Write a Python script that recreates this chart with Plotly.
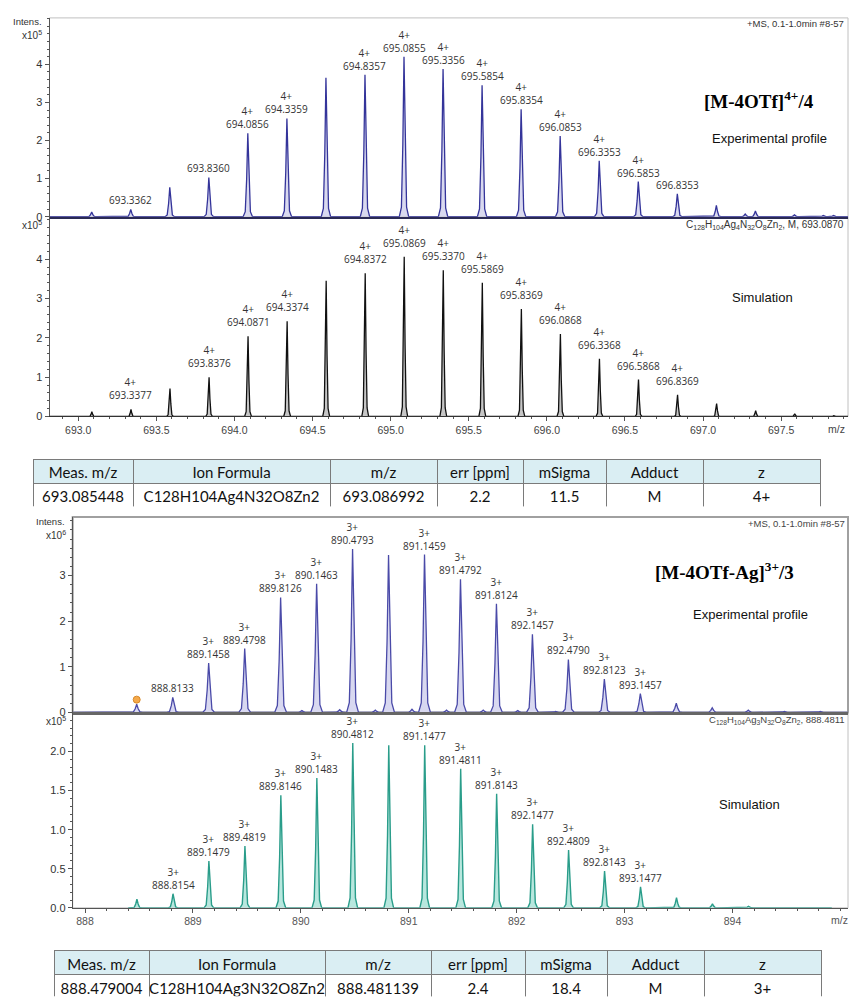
import plotly.graph_objects as go

W, H = 850, 1003

# ---------------- data ----------------
# Panel 1: experimental [M-4OTf]4+ (x10^5)
exp4_mz = [693.0862, 693.3362, 693.5860, 693.8360, 694.0856, 694.3359, 694.5858, 694.8357,
           695.0855, 695.3356, 695.5854, 695.8354, 696.0853, 696.3353, 696.5853, 696.8353,
           697.0853, 697.2700, 697.3353, 697.5853, 697.7700, 697.8353]
exp4_int = [0.12, 0.19, 0.77, 1.03, 2.19, 2.58, 3.65, 3.73,
            4.20, 3.88, 3.45, 2.82, 2.12, 1.47, 0.92, 0.60,
            0.30, 0.07, 0.15, 0.05, 0.03, 0.03]
exp4_label = ["", "693.3362", "", "693.8360", "694.0856", "694.3359", "", "694.8357",
              "695.0855", "695.3356", "695.5854", "695.8354", "696.0853", "696.3353", "696.5853", "696.8353",
              "", "", "", "", "", ""]
exp4_charge = ["", "", "", "", "4+", "4+", "", "4+",
               "4+", "4+", "4+", "4+", "4+", "4+", "4+", "",
               "", "", "", "", "", ""]

# Panel 2: simulated [M-4OTf]4+ (x10^5)
sim4_mz = [693.0871, 693.3377, 693.5874, 693.8376, 694.0871, 694.3374, 694.5873, 694.8372,
           695.0869, 695.3370, 695.5869, 695.8369, 696.0868, 696.3368, 696.5868, 696.8369,
           697.0869, 697.3369, 697.5869, 697.8369]
sim4_int = [0.12, 0.18, 0.71, 1.00, 2.04, 2.42, 3.45, 3.64,
            4.06, 3.72, 3.40, 2.73, 2.10, 1.47, 0.94, 0.55,
            0.33, 0.15, 0.07, 0.02]
sim4_label = ["", "693.3377", "", "693.8376", "694.0871", "694.3374", "", "694.8372",
              "695.0869", "695.3370", "695.5869", "695.8369", "696.0868", "696.3368", "696.5868", "696.8369",
              "", "", "", ""]
sim4_charge = ["", "4+", "", "4+", "4+", "4+", "", "4+",
               "4+", "4+", "4+", "4+", "4+", "4+", "4+", "4+",
               "", "", "", ""]

# Panel 3: experimental [M-4OTf-Ag]3+ (x10^6)
exp3_mz = [888.4790, 888.8133, 889.1458, 889.4798, 889.8126, 890.1463, 890.4793, 890.8126,
           891.1459, 891.4792, 891.8124, 892.1457, 892.4790, 892.8123, 893.1457, 893.4790,
           893.8120, 894.1460, 894.4790, 894.8120]
exp3_int = [0.18, 0.33, 1.08, 1.40, 2.52, 2.82, 3.58, 3.45,
            3.46, 2.92, 2.38, 1.71, 1.16, 0.73, 0.41, 0.20,
            0.10, 0.05, 0.02, 0.02]
exp3_label = ["", "888.8133", "889.1458", "889.4798", "889.8126", "890.1463", "890.4793", "",
              "891.1459", "891.4792", "891.8124", "892.1457", "892.4790", "892.8123", "893.1457", "",
              "", "", "", ""]
exp3_charge = ["", "", "3+", "3+", "3+", "3+", "3+", "",
               "3+", "3+", "3+", "3+", "3+", "3+", "3+", "",
               "", "", "", ""]
exp3_minor_mz = [890.01, 890.36, 890.69, 891.03, 891.35, 891.69, 892.01, 892.36]
exp3_minor_int = [0.04, 0.06, 0.05, 0.07, 0.05, 0.05, 0.04, 0.02]
mono3_mz = [888.4790]
mono3_int = [0.28]

# Panel 4: simulated [M-4OTf-Ag]3+
sim3_mz = [888.4811, 888.8154, 889.1479, 889.4819, 889.8146, 890.1483, 890.4812, 890.8146,
           891.1477, 891.4811, 891.8143, 892.1477, 892.4809, 892.8143, 893.1477, 893.4810,
           893.8140, 894.1480]
sim3_int = [0.11, 0.18, 0.60, 0.79, 1.44, 1.66, 2.11, 2.08,
            2.08, 1.78, 1.46, 1.07, 0.74, 0.47, 0.27, 0.13,
            0.05, 0.02]
sim3_label = ["", "888.8154", "889.1479", "889.4819", "889.8146", "890.1483", "890.4812", "",
              "891.1477", "891.4811", "891.8143", "892.1477", "892.4809", "892.8143", "893.1477", "",
              "", ""]
sim3_charge = ["" if l == "" else "3+" for l in sim3_label]

x4_ticks = [693.0, 693.5, 694.0, 694.5, 695.0, 695.5, 696.0, 696.5, 697.0, 697.5]
x3_ticks = [888, 889, 890, 891, 892, 893, 894]
y4_ticks = [0, 1, 2, 3, 4]
y3_ticks = [0, 1, 2, 3]
ysim3_ticks = [0.0, 0.5, 1.0, 1.5, 2.0]

table_header = ["Meas. m/z", "Ion Formula", "m/z", "err [ppm]", "mSigma", "Adduct", "z"]
table1_row = ["693.085448", "C128H104Ag4N32O8Zn2", "693.086992", "2.2", "11.5", "M", "4+"]
table2_row = ["888.479004", "C128H104Ag3N32O8Zn2", "888.481139", "2.4", "18.4", "M", "3+"]

# ---------------- style helpers ----------------
PROFILE_DX = [-1.0, -0.55, -0.25, 0.0, 0.25, 0.55, 1.0]
PROFILE_DY = [0.0, 0.06, 0.45, 1.0, 0.45, 0.06, 0.0]


def px(x):
    return x / W


def py(y):
    return 1 - y / H


def profile(mz, inten, hw, x0, x1):
    pairs = sorted(zip(mz, inten))
    xs, ys = [x0], [0.0]
    for m, h in pairs:
        for dx, dy in zip(PROFILE_DX, PROFILE_DY):
            xs.append(m + dx * hw)
            ys.append(h * dy)
    xs.append(x1)
    ys.append(0.0)
    return xs, ys


X4_RANGE = [692.816, 697.928]
X3_RANGE = [887.886, 895.07]

fig = go.Figure()

# panel 1
xs, ys = profile(exp4_mz, exp4_int, 0.03, X4_RANGE[0], X4_RANGE[1])
fig.add_trace(go.Scatter(x=xs, y=ys, mode="lines", fill="tozeroy", fillcolor="#d9d9ef",
                         line=dict(color="#34349a", width=1.3), xaxis="x", yaxis="y",
                         hoverinfo="skip", showlegend=False))
# panel 2
xs, ys = profile(sim4_mz, sim4_int, 0.022, X4_RANGE[0], X4_RANGE[1])
fig.add_trace(go.Scatter(x=xs, y=ys, mode="lines", fill="tozeroy", fillcolor="#c6c6c6",
                         line=dict(color="#111111", width=1.3), xaxis="x2", yaxis="y2",
                         hoverinfo="skip", showlegend=False))
# panel 3
xs, ys = profile(exp3_mz + exp3_minor_mz, exp3_int + exp3_minor_int, 0.055, X3_RANGE[0], X3_RANGE[1])
fig.add_trace(go.Scatter(x=xs, y=ys, mode="lines", fill="tozeroy", fillcolor="#d8d8f0",
                         line=dict(color="#4a4aa8", width=1.3), xaxis="x3", yaxis="y3",
                         hoverinfo="skip", showlegend=False))
fig.add_trace(go.Scatter(x=mono3_mz, y=mono3_int, mode="markers",
                         marker=dict(color="#f5a94a", size=7, line=dict(color="#d88a2a", width=1)),
                         xaxis="x3", yaxis="y3", hoverinfo="skip", showlegend=False))
# panel 4
xs, ys = profile(sim3_mz, sim3_int, 0.045, 888.40, 894.92)
fig.add_trace(go.Scatter(x=xs, y=ys, mode="lines", fill="tozeroy", fillcolor="#b8e7de",
                         line=dict(color="#2a9d8a", width=1.4), xaxis="x4", yaxis="y4",
                         hoverinfo="skip", showlegend=False))

# tables
colw1 = [100, 197, 107, 86, 83, 97, 117]
colw2 = [95, 176, 106, 94, 82, 97, 117]
for row, dom_x, dom_y, cw, hh, ch in [
    (table1_row, [px(33), px(820)], [py(510), py(462)], colw1, 24, 24),
    (table2_row, [px(54), px(821)], [0.0, py(956)], colw2, 24, 23),
]:
    fig.add_trace(go.Table(
        domain=dict(x=dom_x, y=dom_y),
        columnwidth=cw,
        header=dict(values=table_header, fill_color="#daeef3", line_color="#7a7a7a",
                    align="center", height=hh,
                    font=dict(family="Lato", size=15, color="#111111")),
        cells=dict(values=[[v] for v in row], fill_color="white", line_color="#7a7a7a",
                   align="center", height=ch,
                   font=dict(family="Lato", size=15, color="#111111")),
    ))

tickfont = dict(family="Liberation Sans", size=11, color="#333333")
common_y = dict(showgrid=False, zeroline=False, showline=True, linecolor="#555555", linewidth=1,
                ticks="outside", ticklen=4, tickcolor="#555555", tickfont=tickfont,
                tickmode="array")

fig.update_layout(
    width=W, height=H, autosize=False,
    margin=dict(l=0, r=0, t=0, b=0),
    paper_bgcolor="white", plot_bgcolor="white",
    xaxis=dict(domain=[px(49.5), px(848)], range=X4_RANGE, anchor="y", showticklabels=False,
               ticks="", showgrid=False, zeroline=False, showline=True, linecolor="#2a2a55",
               linewidth=2),
    yaxis=dict(domain=[py(218), py(18)], range=[0, 5.22], anchor="x", tickvals=y4_ticks,
               minor=dict(dtick=0.2, tick0=0, ticklen=2, ticks="outside", tickcolor="#555555"),
               **common_y),
    xaxis2=dict(domain=[px(49.5), px(848)], range=X4_RANGE, anchor="y2", tickmode="array",
                tickvals=x4_ticks, ticktext=[f"{v:.1f}" for v in x4_ticks],
                ticks="outside", ticklen=4, tickcolor="#555555",
                tickfont=dict(family="Liberation Sans", size=10.5, color="#444444"),
                minor=dict(dtick=0.1, tick0=693.0, ticklen=2, ticks="outside", tickcolor="#555555"),
                showgrid=False, zeroline=False, showline=True, linecolor="#333333", linewidth=1),
    yaxis2=dict(domain=[py(419), py(218)], range=[0, 5.08], anchor="x2", tickvals=y4_ticks,
                minor=dict(dtick=0.2, tick0=0, ticklen=2, ticks="outside", tickcolor="#555555"),
                **common_y),
    xaxis3=dict(domain=[px(72.7), px(848)], range=X3_RANGE, anchor="y3", showticklabels=False,
                ticks="", showgrid=False, zeroline=False, showline=True, linecolor="#666666",
                linewidth=3),
    yaxis3=dict(domain=[py(716.7), py(520)], range=[0, 4.285], anchor="x3", tickvals=y3_ticks,
                minor=dict(dtick=0.2, tick0=0, ticklen=2, ticks="outside", tickcolor="#555555"),
                **common_y),
    xaxis4=dict(domain=[px(72.7), px(848)], range=X3_RANGE, anchor="y4", tickmode="array",
                tickvals=x3_ticks, ticktext=[str(v) for v in x3_ticks],
                ticks="outside", ticklen=4, tickcolor="#555555",
                tickfont=dict(family="Liberation Sans", size=10.5, color="#555555"),
                minor=dict(dtick=0.2, tick0=888, ticklen=2, ticks="outside", tickcolor="#555555"),
                showgrid=False, zeroline=False, showline=True, linecolor="#555555", linewidth=1),
    yaxis4=dict(domain=[py(913.3), py(716.7)], range=[0, 2.50], anchor="x4", tickvals=ysim3_ticks,
                ticktext=[f"{v:.1f}" for v in ysim3_ticks],
                minor=dict(dtick=0.1, tick0=0, ticklen=2, ticks="outside", tickcolor="#555555"),
                **common_y),
)

# frames
shapes = []
for xr, yr, col, lw in [("x", "y", "#c0c0c0", 1), ("x2", "y2", "#c0c0c0", 1),
                        ("x3", "y3", "#a0a0a0", 2), ("x4", "y4", "#c0c0c0", 1)]:
    shapes.append(dict(type="rect", xref=f"{xr} domain", yref=f"{yr} domain", x0=0, x1=1, y0=0, y1=1,
                       line=dict(color=col, width=lw), layer="below"))
fig.update_layout(shapes=shapes)

# peak labels
ann = []
lab_font = dict(family="Open Sans", size=10, color="#333333")
for mz, inten, labels, charges, xr, yr, ysh in [
    (exp4_mz, exp4_int, exp4_label, exp4_charge, "x", "y", 0),
    (sim4_mz, sim4_int, sim4_label, sim4_charge, "x2", "y2", 5),
    (exp3_mz, exp3_int, exp3_label, exp3_charge, "x3", "y3", 0),
    (sim3_mz, sim3_int, sim3_label, sim3_charge, "x4", "y4", 0),
]:
    for m, h, lab, ch in zip(mz, inten, labels, charges):
        if not lab:
            continue
        text = f"{ch}<br>{lab}" if ch else lab
        ann.append(dict(x=m, y=h, xref=xr, yref=yr, text=text, showarrow=False,
                        xanchor="center", yanchor="bottom", yshift=ysh, font=lab_font))


def txt(x, y, text, size=10, family="Liberation Sans", color="#222222", xanchor="center"):
    ann.append(dict(x=px(x), y=py(y), xref="paper", yref="paper", text=text, showarrow=False,
                    xanchor=xanchor, yanchor="middle",
                    font=dict(family=family, size=size, color=color)))


small = "#333333"
txt(44, 22, "Intens.", size=9.5, color=small, xanchor="right")
txt(44, 35, "x10<sup>5</sup>", size=10, color=small, xanchor="right")
txt(44, 226, "x10<sup>5</sup>", size=10, color=small, xanchor="right")
txt(67, 525, "Intens.", size=9.5, color=small, xanchor="right")
txt(68, 538, "x10<sup>6</sup>", size=10, color=small, xanchor="right")
txt(68, 725, "x10<sup>5</sup>", size=10, color=small, xanchor="right")

txt(846, 24, "+MS, 0.1-1.0min #8-57", size=9.5, color=small, xanchor="right")
txt(847, 527, "+MS, 0.1-1.0min #8-57", size=9.5, color="#444444", xanchor="right")
txt(846, 226, "C<sub>128</sub>H<sub>104</sub>Ag<sub>4</sub>N<sub>32</sub>O<sub>8</sub>Zn<sub>2</sub>, M, 693.0870",
    size=10, color=small, xanchor="right")
txt(847, 724, "C<sub>128</sub>H<sub>104</sub>Ag<sub>3</sub>N<sub>32</sub>O<sub>8</sub>Zn<sub>2</sub>, 888.4811",
    size=9.5, color="#444444", xanchor="right")

txt(759, 101, "<b>[M-4OTf]<sup>4+</sup>/4</b>", size=19, family="Liberation Serif", color="#000000")
txt(769, 139, "Experimental profile", size=13, color="#111111")
txt(762, 299, "Simulation", size=13, color="#111111")
txt(724, 574, "<b>[M-4OTf-Ag]<sup>3+</sup>/3</b>", size=19, family="Liberation Serif", color="#000000")
txt(750, 618, "Experimental profile", size=13, color="#111111")
txt(749, 809, "Simulation", size=13, color="#111111")

txt(836, 432, "m/z", size=10.5, color="#444444")
txt(839, 926, "m/z", size=10.5, color="#555555")

fig.update_layout(annotations=ann)

fig.write_html("out.html",
               config={"displayModeBar": False, "staticPlot": True},
               post_script="document.body.style.margin='0';document.body.style.overflow='hidden';")
